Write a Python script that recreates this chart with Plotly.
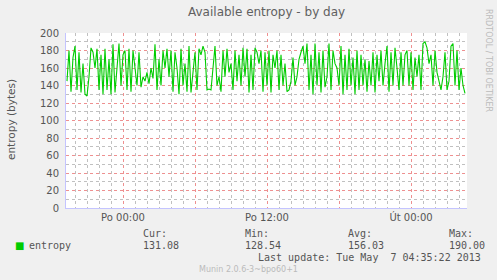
import plotly.graph_objects as go
import pandas as pd

# ---- data ----
start_time = "2013-05-05 19:20"
step = "10min"
entropy = [
    145, 180, 133, 172, 185, 135, 178, 132, 165, 130,
    128, 150, 183, 178, 160, 182, 135, 175, 130, 182,
    135, 170, 130, 187, 132, 165, 188, 140, 175, 180,
    135, 182, 133, 180, 160, 140, 178, 138, 150, 145,
    155, 142, 160, 148, 187, 135, 170, 140, 180, 160,
    182, 150, 180, 133, 178, 160, 130, 182, 140, 165,
    133, 185, 132, 160, 178, 135, 182, 175, 185, 178,
    135, 136, 135, 160, 185, 140, 150, 133, 180, 150,
    182, 155, 165, 135, 180, 145, 175, 140, 183, 150,
    182, 132, 175, 135, 183, 178, 165, 180, 133, 178,
    140, 180, 132, 175, 160, 180, 135, 175, 140, 165,
    133, 135, 145, 172, 140, 150, 170, 178, 185, 165,
    188, 135, 175, 130, 188, 140, 178, 132, 180, 138,
    150, 188, 135, 180, 165, 160, 140, 185, 130, 175,
    135, 182, 140, 172, 130, 180, 135, 175, 140, 170,
    133, 168, 140, 178, 132, 175, 145, 180, 140, 165,
    185, 133, 178, 140, 183, 160, 135, 178, 140, 175,
    180, 140, 178, 135, 172, 150, 175, 135, 188, 190,
    183, 165, 175, 140, 180, 155, 145, 135, 150, 178,
    135, 145, 185, 188, 140, 180, 135, 160, 140, 131.08,
]
times = pd.date_range(start_time, periods=len(entropy), freq=step)

x_tickvals = ["2013-05-06 00:00", "2013-05-06 06:00", "2013-05-06 12:00",
              "2013-05-06 18:00", "2013-05-07 00:00"]
x_ticktext = ["Po 00:00", "", "Po 12:00", "", "Út 00:00"]
x_range = ["2013-05-05 19:15", "2013-05-07 04:40"]

stat_labels = ["Cur:", "Min:", "Avg:", "Max:"]
stat_values = ["131.08", "128.54", "156.03", "190.00"]
series_name = "entropy"
title = "Available entropy - by day"
y_title = "entropy (bytes)"
last_update = "Last update: Tue May \u00a07 04:35:22 2013"
footer = "Munin 2.0.6-3~bpo60+1"
side_text = "RRDTOOL / TOBI OETIKER"

# ---- layout helpers ----
W, H = 497, 280
L, R, T, B = 66, 467, 33, 208


def px(x):
    return (x - L) / (R - L)


def py(y):
    return (B - y) / (B - T)


SANS = "DejaVu Sans"
MONO = "DejaVu Sans Mono"
TXT = "#555555"
RED_GRID = "#EE9090"
GREY_GRID = "#C0C0C0"
AXIS = "#C4C4FF"
DASH = "dot"

fig = go.Figure()
fig.add_trace(go.Scatter(
    x=times, y=entropy, mode="lines",
    line=dict(color="#00CC00", width=1.1),
    hoverinfo="skip", showlegend=False,
))

fig.update_layout(
    width=W, height=H,
    margin=dict(l=L, r=W - R, t=T, b=H - B, pad=0),
    paper_bgcolor="#F0F0F0",
    plot_bgcolor="#FFFFFF",
    showlegend=False,
    font=dict(family=SANS, color=TXT, size=10),
)

fig.update_xaxes(
    type="date", range=x_range,
    tickmode="array", tickvals=x_tickvals, ticktext=x_ticktext,
    showgrid=True, gridcolor=RED_GRID, griddash=DASH, gridwidth=1,
    minor=dict(tickmode="linear", dtick=3600000, tick0="2013-05-06 00:00",
               showgrid=True, gridcolor=GREY_GRID, griddash=DASH, gridwidth=1),
    showline=True, linecolor=AXIS, linewidth=1,
    ticks="", tickfont=dict(family=SANS, size=10, color=TXT),
    zeroline=False, fixedrange=True,
)
fig.update_yaxes(
    range=[0, 200], tickmode="linear", tick0=0, dtick=20,
    showgrid=True, gridcolor=RED_GRID, griddash=DASH, gridwidth=1,
    minor=dict(tickmode="linear", dtick=10, tick0=0, showgrid=True,
               gridcolor=GREY_GRID, griddash=DASH, gridwidth=1),
    showline=True, linecolor=AXIS, linewidth=1,
    ticks="", ticklabelstandoff=4,
    tickfont=dict(family=SANS, size=10, color=TXT),
    zeroline=False, fixedrange=True,
)

ann = []


def add(text, x, y, xanchor="left", yanchor="middle", size=10, family=MONO,
        color=TXT, angle=0):
    ann.append(dict(text=text, x=px(x), y=py(y), xref="paper", yref="paper",
                    xanchor=xanchor, yanchor=yanchor, showarrow=False,
                    textangle=angle,
                    font=dict(family=family, size=size, color=color)))


add(title, (L + R) / 2, 12, xanchor="center", size=12, family=SANS, color="#606060")
add(y_title, 11, 120, xanchor="center", size=10.5, family=SANS, angle=-90)
add(side_text, 488, 60, xanchor="center", size=8, family=SANS, color="#BBBBBB", angle=90)

# legend block
add("■", 12.5, 245, size=10, family=SANS, color="#00CC00")
add(series_name, 27, 245)
stat_x = [141, 243, 346, 447]
for lab, val, sx in zip(stat_labels, stat_values, stat_x):
    add(lab, sx, 233)
    add(val, sx, 245)
add(last_update, 483, 257, xanchor="right")
add(footer, 248, 269.5, xanchor="center", size=8, family=SANS, color="#BBBBBB")

fig.update_layout(annotations=ann)

fig.write_html("out.html")
